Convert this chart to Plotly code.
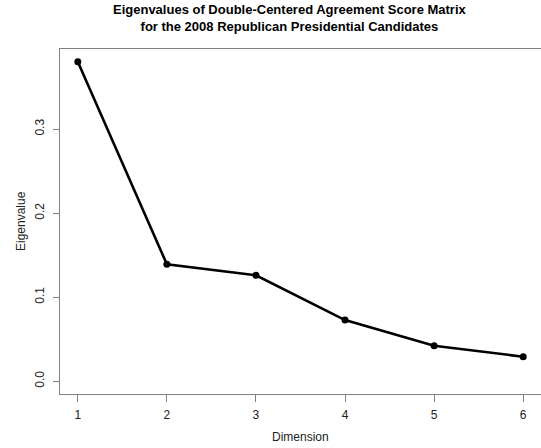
import plotly.graph_objects as go

dimensions = [1, 2, 3, 4, 5, 6]
eigenvalues = [0.380, 0.139, 0.126, 0.0727, 0.0422, 0.0292]
y_ticks = [0.0, 0.1, 0.2, 0.3]
y_tick_labels = ["0.0", "0.1", "0.2", "0.3"]

W, H = 541, 448
L, R, T, B = 59.5, 0, 49, 54

fig = go.Figure()
fig.add_trace(go.Scatter(
    x=dimensions, y=eigenvalues, mode="lines+markers",
    line=dict(color="black", width=2.6),
    marker=dict(color="black", size=7),
    cliponaxis=False, showlegend=False,
))

font = dict(family="Liberation Sans, Arial, sans-serif", color="#222222")

fig.update_layout(
    width=W, height=H,
    margin=dict(l=L, r=R, t=T, b=B, pad=0),
    paper_bgcolor="white", plot_bgcolor="white",
    font=dict(size=12, **font),
    xaxis=dict(
        range=[0.8, 6.2], tickvals=dimensions, ticktext=[str(d) for d in dimensions],
        showgrid=False, zeroline=False,
        showline=True, mirror=True, linecolor="#808080", linewidth=1.3,
        ticks="outside", ticklen=7, tickcolor="#808080", tickwidth=1,
        ticklabelstandoff=2,
        tickfont=dict(size=12, **font),
    ),
    yaxis=dict(
        range=[-0.0152, 0.3952], tickvals=y_ticks, ticktext=y_tick_labels,
        showgrid=False, zeroline=False,
        showline=True, mirror=True, linecolor="#808080", linewidth=1.3,
        ticks="outside", ticklen=6, tickcolor="#808080", tickwidth=1,
        ticklabelstandoff=4,
        tickangle=-90, tickfont=dict(size=12, **font),
    ),
    annotations=[
        dict(text="<b>Eigenvalues of Double-Centered Agreement Score Matrix<br>for the 2008 Republican Presidential Candidates</b>",
             xref="paper", yref="paper", x=(290 - L) / (W - L - R), y=1 + (T - 18.5) / (H - T - B),
             xanchor="center", yanchor="middle", showarrow=False,
             font=dict(size=13, family="Liberation Sans, Arial, sans-serif", color="black")),
        dict(text="Dimension", xref="paper", yref="paper",
             x=0.5, y=-(437 - (H - B)) / (H - T - B), xanchor="center", yanchor="middle",
             showarrow=False, font=dict(size=12, **font)),
        dict(text="Eigenvalue", xref="paper", yref="paper", textangle=-90,
             x=-(L - 20) / (W - L - R), y=0.5,
             xanchor="center", yanchor="middle",
             showarrow=False, font=dict(size=12, **font)),
    ],
)

fig.write_html("out.html", config={"displayModeBar": False},
               post_script="document.body.style.margin='0';document.body.style.overflow='hidden';")
